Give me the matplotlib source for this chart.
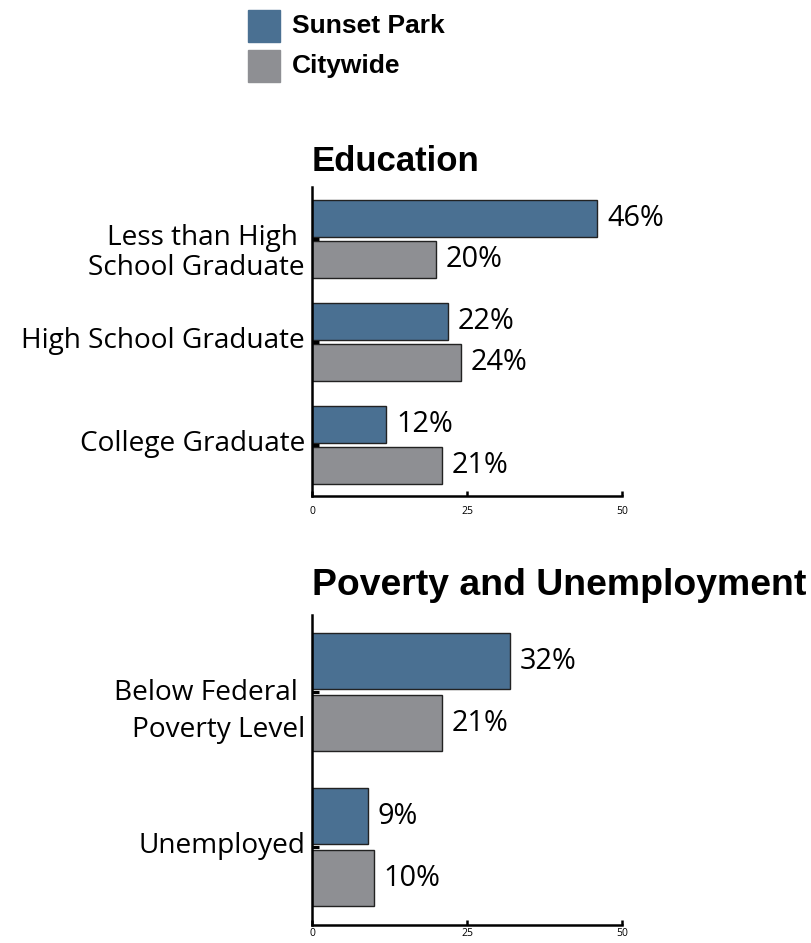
import matplotlib
matplotlib.use("Agg")
import matplotlib.pyplot as plt
from matplotlib.patches import Rectangle
from matplotlib.transforms import offset_copy

series_names = ["Sunset Park", "Citywide"]
colors = ["#4a7092", "#8e8f93"]

edu_title = "Education"
edu_labels = ["Less than High \nSchool Graduate", "High School Graduate", "College Graduate"]
edu_sunset = [46, 22, 12]
edu_city = [20, 24, 21]

pov_title = "Poverty and Unemployment"
pov_labels = ["Below Federal \nPoverty Level", "Unemployed"]
pov_sunset = [32, 9]
pov_city = [21, 10]

xticks = [0, 25, 50]

label_font = "Open Sans"
title_font = "Liberation Sans"
label_size = 20.2

fig = plt.figure(figsize=(8.11, 9.43), dpi=100)


def panel(rect, title, title_size, title_pad, labels, sunset, city, line_px, tick_pad):
    ax = fig.add_axes(rect)
    n = len(labels)
    pos = list(range(n))
    h = 0.36
    ax.barh([p - 0.2 for p in pos], sunset, height=h, color=colors[0],
            edgecolor="#222222", linewidth=1.0)
    ax.barh([p + 0.2 for p in pos], city, height=h, color=colors[1],
            edgecolor="#222222", linewidth=1.0)
    ax.set_xlim(0, 50)
    ax.set_ylim(n - 0.5, -0.5)
    for s in ["top", "right"]:
        ax.spines[s].set_visible(False)
    for s in ["left", "bottom"]:
        ax.spines[s].set_linewidth(1.8)
    ax.set_yticks(pos)
    ax.set_yticklabels([])
    ax.tick_params(axis="y", direction="in", length=5, width=2.2)
    ax.set_xticks(xticks)
    ax.set_xticklabels([str(t) for t in xticks], fontsize=7.5, family=label_font)
    ax.tick_params(axis="x", direction="in", length=3.5, width=1.8, pad=tick_pad)

    # category labels, right aligned next to the spine
    # (baseline of first line sits a little below the tick)
    ls = line_px / (label_size * 100 / 72 * 0.98)
    for p, lab in zip(pos, labels):
        nl = lab.count("\n")
        tr = offset_copy(ax.get_yaxis_transform(), fig=fig, x=-7,
                         y=-(6 + nl * line_px), units="dots")
        ax.text(0, p, lab, transform=tr, ha="right", va="baseline",
                fontsize=label_size, family=label_font, linespacing=ls)

    # value labels
    for vals, off in [(sunset, -0.2), (city, 0.2)]:
        for p, v in zip(pos, vals):
            ax.annotate(f"{v}%", (v, p + off), xytext=(7, 0), textcoords="offset points",
                        ha="left", va="center", fontsize=20.8, family=label_font)

    ax.set_title(title, loc="left", fontsize=title_size, fontweight="bold",
                 family=title_font, pad=title_pad)
    return ax


panel([0.3847, 0.4735, 0.3822, 0.3277], edu_title, 25, 11.5, edu_labels,
      edu_sunset, edu_city, 30, 7)
panel([0.3847, 0.0195, 0.3822, 0.3287], pov_title, 26.9, 14, pov_labels,
      pov_sunset, pov_city, 39, 2.5)

# legend at the top
W, H = 811, 943
for i, (name, c) in enumerate(zip(series_names, colors)):
    y0 = 10 + i * 40
    fig.patches.append(Rectangle((248 / W, 1 - (y0 + 32) / H), 32 / W, 32 / H,
                                 transform=fig.transFigure, color=c))
    fig.text(292 / W, 1 - (y0 + 16) / H, name, ha="left", va="center",
             fontsize=19, fontweight="bold", family=title_font)

fig.savefig("out.png", dpi=100)
